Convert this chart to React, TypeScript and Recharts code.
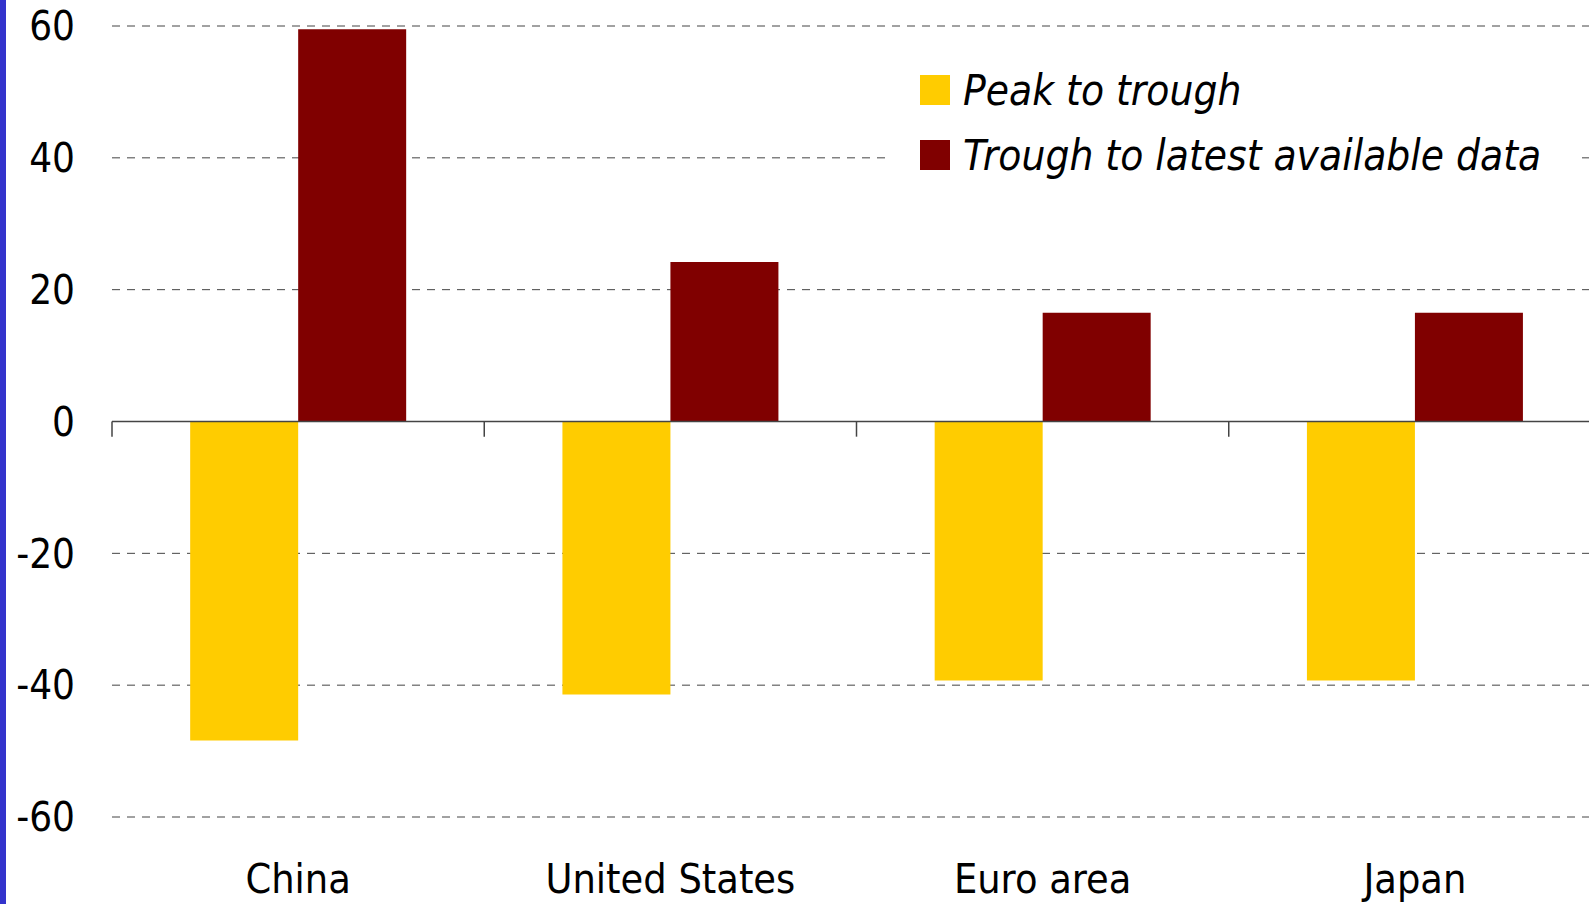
import {
  BarChart,
  Bar,
  XAxis,
  YAxis,
  CartesianGrid,
  ReferenceLine,
  Legend,
} from 'recharts';

const categories = ['China', 'United States', 'Euro area', 'Japan'];
const peakToTrough = [-48.4, -41.4, -39.3, -39.3];
const troughToLatest = [59.5, 24.2, 16.5, 16.5];
const yTicks = [-60, -40, -20, 0, 20, 40, 60];

const data = categories.map((name, i) => ({
  name,
  idx: i,
  peak: peakToTrough[i],
  latest: troughToLatest[i],
}));

const FONT = "'DejaVu Sans Condensed', 'DejaVu Sans', sans-serif";

function LegendBox(props: any) {
  const { payload = [] } = props;
  return (
    <div style={{ background: '#fff', padding: '12.5px 0 12.5px 35px' }}>
      {payload.map((p: any) => (
        <div key={p.value} style={{ display: 'flex', alignItems: 'center', height: 65 }}>
          <span style={{ width: 30, height: 30, background: p.color, marginRight: 13, flexShrink: 0 }} />
          <span
            style={{
              fontFamily: FONT,
              fontStretch: 'condensed',
              fontStyle: 'italic',
              fontSize: 42,
              color: '#000',
              whiteSpace: 'nowrap',
            }}
          >
            {p.value}
          </span>
        </div>
      ))}
    </div>
  );
}

export default function App() {
  const yTickStyle = { fontFamily: FONT, fontStretch: 'condensed', fontSize: 40, fill: '#000' };
  const xTickStyle = { fontFamily: FONT, fontStretch: 'condensed', fontSize: 41, fill: '#000' };
  return (
    <div
      style={{
        position: 'absolute',
        left: 0,
        top: 0,
        width: 1589,
        height: 904,
        overflow: 'hidden',
        background: '#fff',
        fontFamily: FONT,
      }}
    >
      <div style={{ position: 'absolute', left: 0, top: 0, width: 6, height: 904, background: '#3333cc', zIndex: 2 }} />
      <BarChart
        width={1601}
        height={904}
        data={data}
        margin={{ top: 26, right: 0, bottom: 0, left: 0 }}
        barCategoryGap="21%"
        barGap={0}
      >
        <CartesianGrid vertical={false} stroke="#444" strokeDasharray="8 7" />
        <XAxis
          dataKey="name"
          height={87}
          axisLine={false}
          tickLine={false}
          tickSize={0}
          tickMargin={47}
          tick={xTickStyle}
          interval={0}
        />
        <XAxis xAxisId="edge" dataKey="idx" type="number" domain={[0, 4]} allowDataOverflow hide />
        <YAxis
          width={112}
          domain={[-60, 60]}
          ticks={yTicks}
          axisLine={false}
          tickLine={false}
          tickSize={0}
          tickMargin={37}
          tick={yTickStyle}
          interval={0}
        />
        <ReferenceLine y={0} stroke="#444" strokeWidth={1.5} />
        {categories.map((_, i) => (
          <ReferenceLine
            key={i}
            xAxisId="edge"
            segment={[{ x: i, y: 0 }, { x: i, y: -2.3 }]}
            stroke="#444"
            strokeWidth={1.5}
          />
        ))}
        <Legend
          layout="vertical"
          align="center"
          verticalAlign="middle"
          content={<LegendBox />}
          wrapperStyle={{ left: 885, top: 45, width: 694 }}
        />
        <Bar dataKey="peak" name="Peak to trough" fill="#ffcc00" isAnimationActive={false} />
        <Bar dataKey="latest" name="Trough to latest available data" fill="#800000" isAnimationActive={false} />
      </BarChart>
    </div>
  );
}
